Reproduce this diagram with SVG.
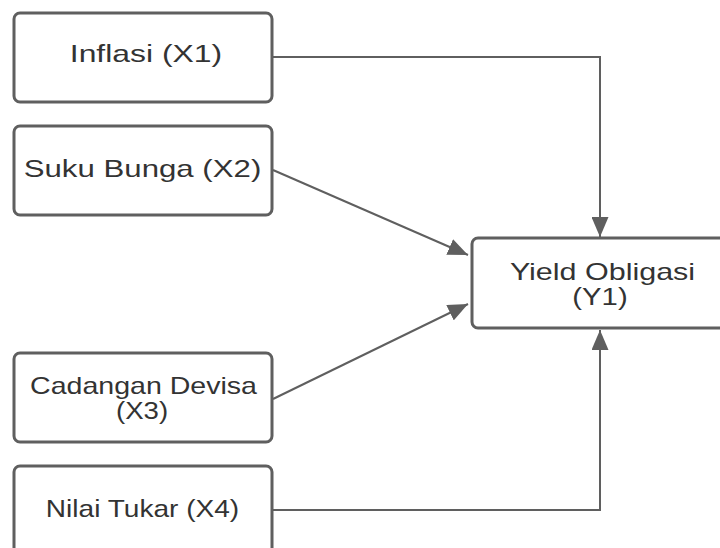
<svg xmlns="http://www.w3.org/2000/svg" width="720" height="548" viewBox="0 0 720 548">
  <style>
    .box { fill: #ffffff; stroke: #5f5f5f; stroke-width: 3; }
    .lbl { font-family: "Liberation Sans", Arial, sans-serif; font-size: 24px; fill: #333333; text-anchor: middle; }
    .conn { fill: none; stroke: #5f5f5f; stroke-width: 2; }
  </style>
  <defs>
    <marker id="arrow" markerUnits="userSpaceOnUse" markerWidth="20" markerHeight="17" refX="20" refY="8.5" orient="auto">
      <path d="M0,0 L20,8.5 L0,17 Z" fill="#5f5f5f"/>
    </marker>
  </defs>
  <rect width="720" height="548" fill="#ffffff"/>

  <g id="connectors">
    <path class="conn" d="M273,57 H600 V237" marker-end="url(#arrow)"/>
    <path class="conn" d="M273,170 L468,255" marker-end="url(#arrow)"/>
    <path class="conn" d="M273,399 L468,304" marker-end="url(#arrow)"/>
    <path class="conn" d="M273,510 H600 V330" marker-end="url(#arrow)"/>
  </g>

  <g id="node-x1">
    <rect class="box" x="14" y="13" width="258" height="89" rx="6"/>
    <text class="lbl" transform="translate(146,62) scale(1.33,1)">Inflasi (X1)</text>
  </g>
  <g id="node-x2">
    <rect class="box" x="14" y="126" width="258" height="89" rx="6"/>
    <text class="lbl" transform="translate(142.5,177) scale(1.3,1)">Suku Bunga (X2)</text>
  </g>
  <g id="node-x3">
    <rect class="box" x="14" y="353" width="258" height="89" rx="6"/>
    <text class="lbl" transform="translate(143.5,394) scale(1.19,1)">Cadangan Devisa</text>
    <text class="lbl" transform="translate(142,419) scale(1.15,1)">(X3)</text>
  </g>
  <g id="node-x4">
    <rect class="box" x="14" y="466" width="258" height="89" rx="6"/>
    <text class="lbl" transform="translate(142.5,517) scale(1.17,1)">Nilai Tukar (X4)</text>
  </g>
  <g id="node-y1">
    <rect class="box" x="472" y="238" width="260" height="90" rx="6"/>
    <text class="lbl" transform="translate(602.5,280) scale(1.27,1)">Yield Obligasi</text>
    <text class="lbl" transform="translate(600,305) scale(1.22,1)">(Y1)</text>
  </g>
</svg>
